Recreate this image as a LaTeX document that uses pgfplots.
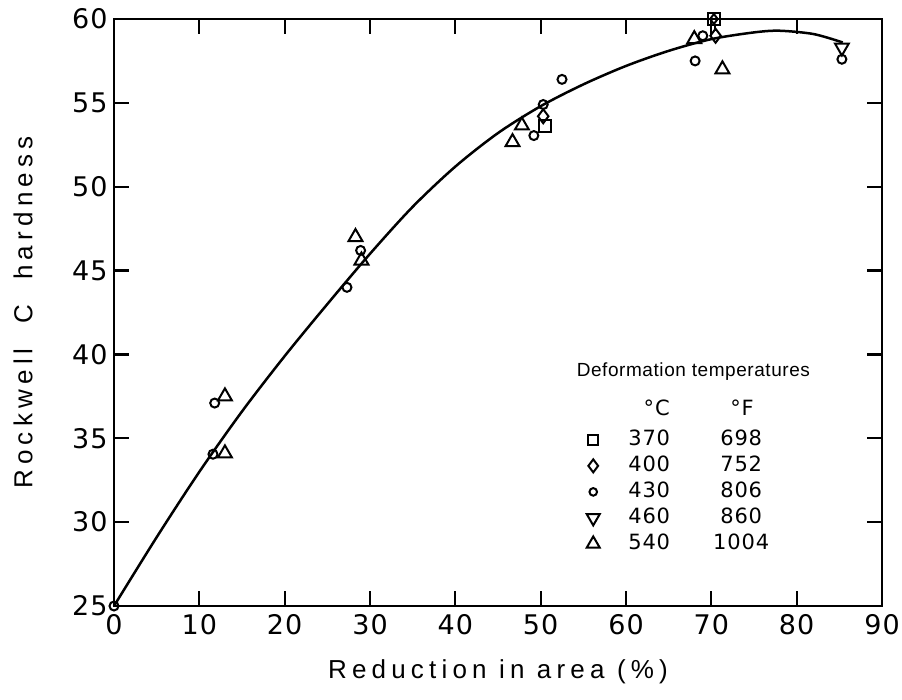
\documentclass[border=0pt]{standalone}
\usepackage{fontspec}
\setmainfont{Liberation Sans}
\newfontfamily\numfont{DejaVu Sans}[LetterSpace=4]
\newfontfamily\labfont{Liberation Sans}[LetterSpace=20]
\newfontfamily\legfont{Liberation Sans}[LetterSpace=3]
\usepackage{pgfplots}
\pgfplotsset{compat=1.18}
\begin{document}
\begin{tikzpicture}
\begin{axis}[
  scale only axis, width=768pt, height=587pt,
  xmin=0, xmax=90, ymin=25, ymax=60,
  xtick={0,10,...,90}, ytick={25,30,...,60},
  tick align=inside, major tick length=15pt,
  axis line style={line width=2.7pt},
  every tick/.style={line width=2.2pt, black},
  tick label style={font=\numfont\fontsize{27}{32}\selectfont},
  xticklabel style={yshift=-5pt},
  yticklabel style={xshift=-3pt},
  /pgf/number format/assume math mode=true,
  xlabel={Reduction in area (\%)},
  ylabel={Rockwell\ \ C\ \ hardness},
  label style={font=\labfont\fontsize{26}{30}\selectfont},
  xlabel style={at={([yshift=-66pt]axis description cs:0.5,0)}, anchor=center},
  ylabel style={at={([xshift=-91pt]axis description cs:0,0.5)}, anchor=center},
  clip=false,
  legend style={draw=none, fill=none, inner sep=0pt, outer sep=0pt,
    at={(axis cs:55.4,35.47)}, anchor=north west,
    font=\numfont\fontsize{21}{25}\selectfont, row sep=7pt,
    nodes={inner sep=0pt, text height=15pt, text depth=4pt}},
  legend cell align=left,
]
% fitted curve
\addplot[smooth, line width=2.5pt, black, forget plot] coordinates {
 (0,25) (5,29.1) (10,33.0) (15,36.6) (20,39.9) (25,43.0) (30,46.0) (35,48.8)
 (40,51.2) (45,53.2) (50,54.8) (55,56.1) (60,57.2) (65,58.1) (70,58.8)
 (75,59.2) (78,59.3) (82,59.1) (85.4,58.6)};
\addplot[line width=2pt, black, forget plot] coordinates {(70.4,59.3) (70.4,59.7)};
% 370 C square
\addplot[only marks, mark=square, mark size=6pt, line width=2pt, fill=white, forget plot] coordinates {
 (50.5,53.6) (70.3,60.0)};
% 400 C diamond
\addplot[only marks, mark=diamond, mark size=7pt, line width=2pt, fill=white, forget plot] coordinates {
 (50.3,54.2) (70.5,59.0)};
\addplot[only marks, mark=diamond, mark size=5pt, line width=2pt, fill=white, forget plot] coordinates {
 (70.3,60.0)};
% 430 C circle
\addplot[only marks, mark=o, mark size=4.5pt, line width=2pt, fill=white, forget plot] coordinates {
 (0,25) (11.6,34.05) (11.8,37.1) (27.3,44.0) (28.9,46.2) (49.2,53.05) (50.3,54.9)
 (52.5,56.4) (68.1,57.5) (69.0,59.0) (85.3,57.6)};
% 460 C inverted triangle
\addplot[only marks, mark=triangle, mark size=8pt, line width=2pt, fill=white,
  mark options={rotate=180}, forget plot] coordinates {(85.3,58.3)};
% 540 C triangle
\addplot[only marks, mark=triangle, mark size=8pt, line width=2pt, fill=white, forget plot] coordinates {
 (13.0,34.1) (13.0,37.5) (28.3,47.0) (29.0,45.6) (46.7,52.66) (47.8,53.65) (68.0,58.8) (71.3,57.0)};
% legend
\addlegendimage{only marks, mark=square, mark size=5pt, line width=2pt}
\addlegendentry{\makebox[99pt][c]{370}\makebox[85pt][c]{698}}
\addlegendimage{only marks, mark=diamond, mark size=6.5pt, line width=2pt}
\addlegendentry{\makebox[99pt][c]{400}\makebox[85pt][c]{752}}
\addlegendimage{only marks, mark=o, mark size=3.8pt, line width=2pt}
\addlegendentry{\makebox[99pt][c]{430}\makebox[85pt][c]{806}}
\addlegendimage{only marks, mark=triangle, mark size=7.5pt, line width=2pt, mark options={rotate=180}}
\addlegendentry{\makebox[99pt][c]{460}\makebox[85pt][c]{860}}
\addlegendimage{only marks, mark=triangle, mark size=7.5pt, line width=2pt}
\addlegendentry{\makebox[99pt][c]{540}\makebox[85pt][c]{1004}}
\node[font=\legfont\fontsize{19}{23}\selectfont] at (axis cs:67.9,38.97) {Deformation temperatures};
\node[font=\numfont\fontsize{21}{25}\selectfont] at (axis cs:63.6,36.8) {°C};
\node[font=\numfont\fontsize{21}{25}\selectfont] at (axis cs:73.6,36.8) {°F};
\end{axis}
\pgfresetboundingbox
\path ([xshift=-114pt,yshift=-94pt]current axis.south west) rectangle ([xshift=20pt,yshift=19pt]current axis.north east);
\end{tikzpicture}
\end{document}
